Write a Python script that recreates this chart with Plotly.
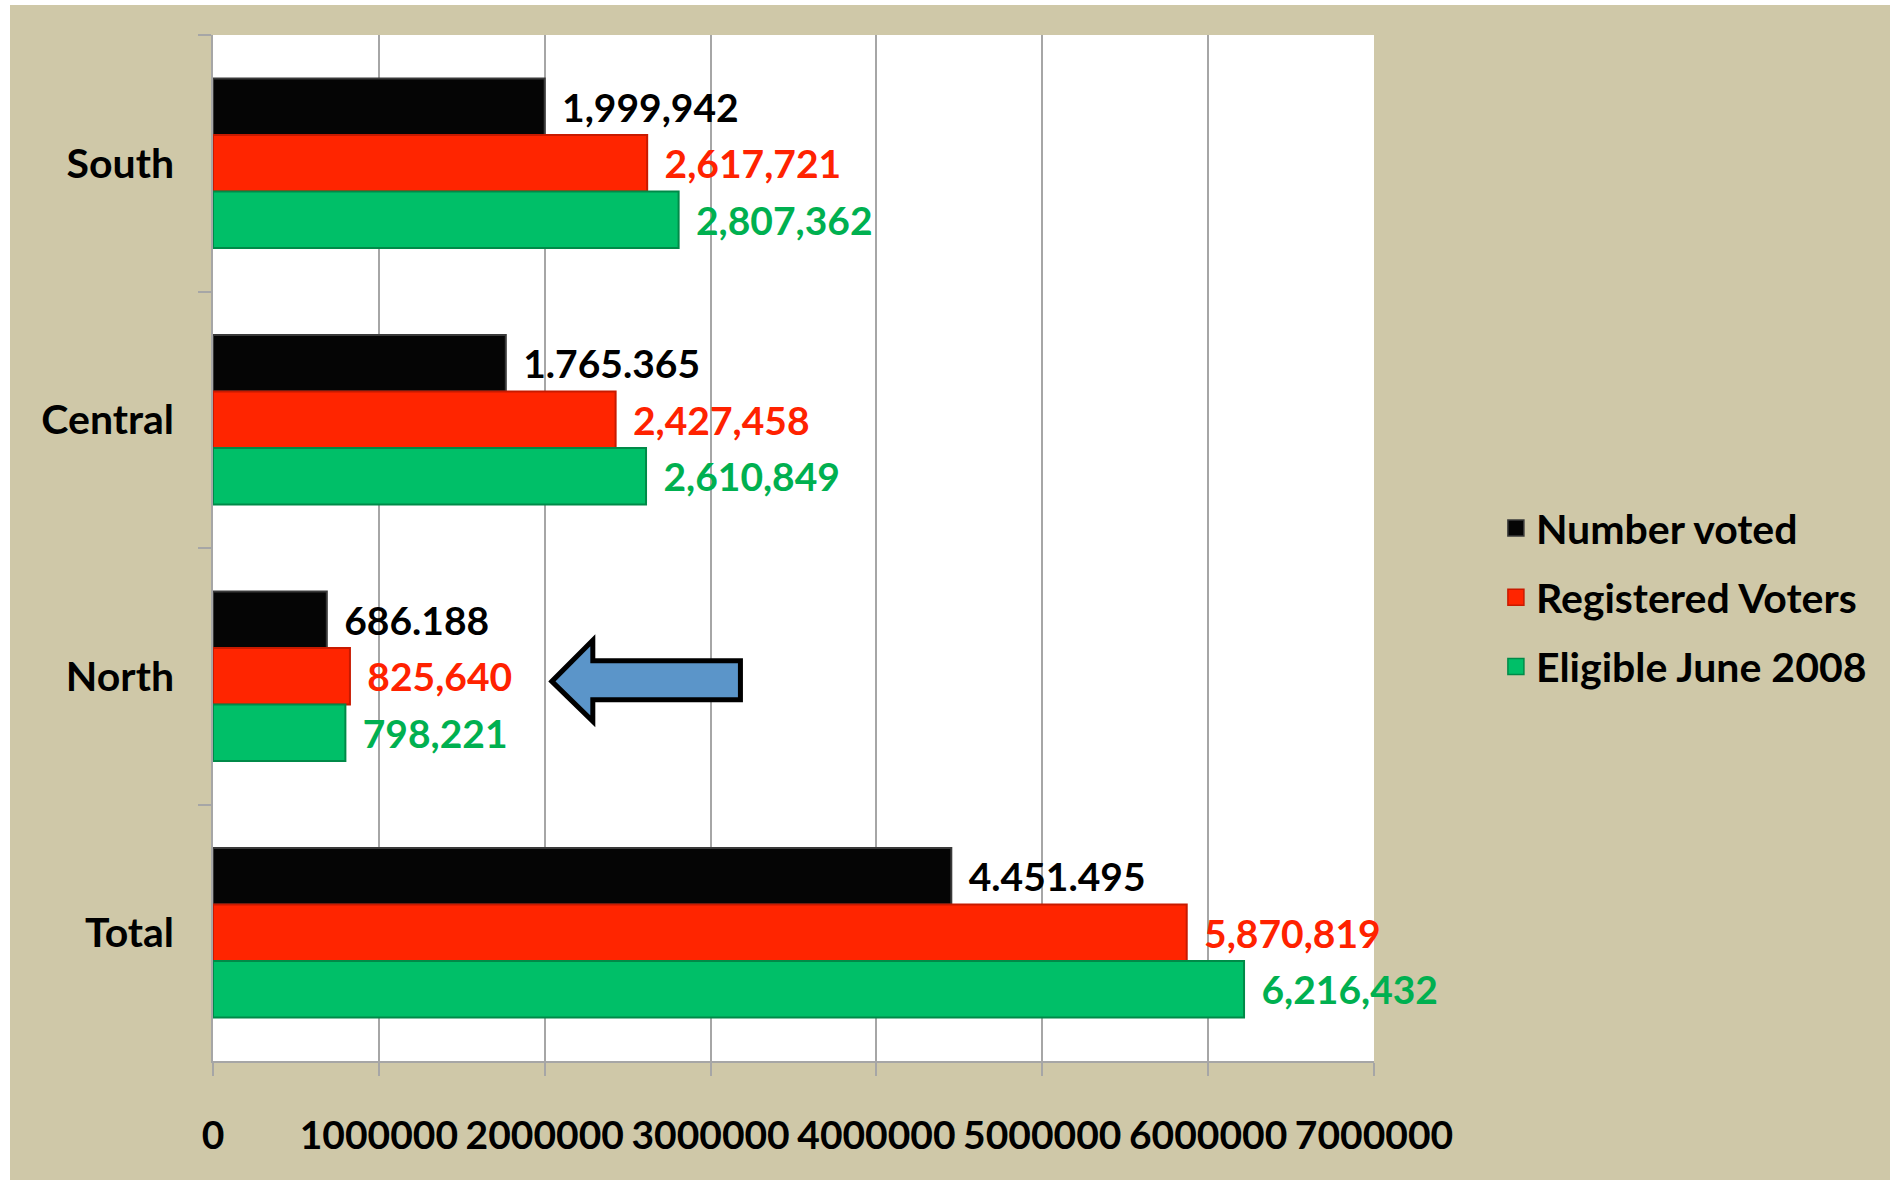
import plotly.graph_objects as go

# data
regions = ["South", "Central", "North", "Total"]
series_names = ["Number voted", "Registered Voters", "Eligible June 2008"]
number_voted = [1999942, 1765365, 686188, 4451495]
registered = [2617721, 2427458, 825640, 5870819]
eligible = [2807362, 2610849, 798221, 6216432]
voted_labels = ["1,999,942", "1.765.365", "686.188", "4.451.495"]
registered_labels = ["2,617,721", "2,427,458", "825,640", "5,870,819"]
eligible_labels = ["2,807,362", "2,610,849", "798,221", "6,216,432"]
x_ticks = [0, 1000000, 2000000, 3000000, 4000000, 5000000, 6000000, 7000000]

FONT = "Lato, Open Sans, sans-serif"
BG = "#CFC8A8"
GRID = "#A6A6A6"

bar_colors = ["#050505", "#FF2500", "#00BF68"]
edge_colors = ["#3a3a3a", "#C81A00", "#008A48"]
label_colors = ["#000000", "#FF2200", "#00B050"]
values = [number_voted, registered, eligible]
labels = [voted_labels, registered_labels, eligible_labels]

fig = go.Figure()

for name, vals, labs, col, edge, lcol in zip(series_names, values, labels,
                                              bar_colors, edge_colors, label_colors):
    fig.add_trace(go.Bar(
        y=regions, x=vals, name=name, orientation="h",
        marker=dict(color=col, line=dict(color=edge, width=2)),
        text=["\u00a0\u2009" + s for s in labs],
        textposition="outside",
        textfont=dict(family=FONT, size=39, color=lcol, weight="bold"),
        constraintext="none",
        cliponaxis=False,
        showlegend=False,
        hoverinfo="skip",
    ))

# legend entries (bigger square swatches than the bar legend icon)
for i, (name, col, edge) in enumerate(zip(series_names, bar_colors, edge_colors)):
    fig.add_trace(go.Scatter(
        x=[None], y=[None], mode="markers", name=name,
        legendgroup=f"g{i}",
        marker=dict(symbol="square", size=26, color=col,
                    line=dict(color=edge, width=1.5)),
    ))

# blue arrow pointing at North
fig.add_shape(
    type="path", xref="x", yref="paper",
    path=("M 2043000,0.370 L 2290000,0.410 L 2290000,0.390 L 3180000,0.390 "
          "L 3180000,0.352 L 2290000,0.352 L 2290000,0.331 Z"),
    fillcolor="#5B95C9", line=dict(color="black", width=5),
)

fig.update_layout(
    width=1890, height=1180,
    margin=dict(l=203, r=526, t=30, b=124),
    paper_bgcolor=BG, plot_bgcolor="white",
    barmode="group", bargap=0.34, bargroupgap=0,
    font=dict(family=FONT, size=39, color="black", weight="bold"),
    legend=dict(
        x=1.105, xanchor="left", y=0.452, yanchor="middle",
        font=dict(family=FONT, size=41, color="black", weight="bold"),
        tracegroupgap=13, bgcolor="rgba(0,0,0,0)",
    ),
    xaxis=dict(
        range=[0, 7000000], tickvals=x_ticks, tickformat="d",
        showgrid=True, gridcolor=GRID, gridwidth=1.5,
        showline=True, linecolor=GRID, linewidth=2,
        ticks="outside", ticklen=13, tickcolor=GRID, tickwidth=1.5,
        ticklabelstandoff=26, zeroline=False,
        tickfont=dict(family=FONT, size=39, color="black", weight="bold"),
    ),
    yaxis=dict(
        type="category", categoryorder="array", categoryarray=regions,
        autorange="reversed",
        showline=True, linecolor=GRID, linewidth=1.5,
        ticks="outside", ticklen=13, tickcolor=GRID, tickwidth=1.5,
        tickson="boundaries", ticklabelstandoff=29,
        showgrid=False,
        tickfont=dict(family=FONT, size=41, color="black", weight="bold"),
    ),
)

fig.write_html(
    "out.html", default_width="1890px", default_height="1180px",
    post_script=("document.documentElement.style.overflow = 'hidden';"
                 "document.body.style.overflow = 'hidden';"
                 "document.body.style.margin = '5px 0 0 10px';"),
)
